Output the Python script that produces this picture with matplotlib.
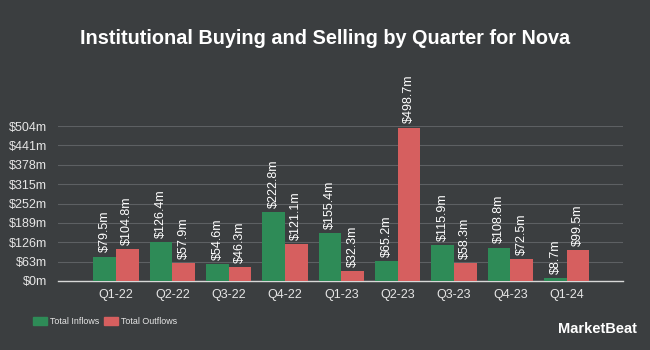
import matplotlib
matplotlib.use("Agg")
import matplotlib.pyplot as plt
import numpy as np

quarters = ["Q1-22", "Q2-22", "Q3-22", "Q4-22", "Q1-23", "Q2-23", "Q3-23", "Q4-23", "Q1-24"]
inflows = [79.5, 126.4, 54.6, 222.8, 155.4, 65.2, 115.9, 108.8, 8.7]
outflows = [104.8, 57.9, 46.3, 121.1, 32.3, 498.7, 58.3, 72.5, 99.5]
yticks = [0, 63, 126, 189, 252, 315, 378, 441, 504]
ytick_labels = ["$0m", "$63m", "$126m", "$189m", "$252m", "$315m", "$378m", "$441m", "$504m"]

BG = "#3b3e40"
GREEN = "#2e8b57"
RED = "#d65f5f"
plt.rcParams['font.family'] = ['Liberation Sans', 'DejaVu Sans']

fig = plt.figure(figsize=(6.5, 3.5), dpi=100, facecolor=BG)
ax = fig.add_axes([58/650, 1-281/350, 565/650, 155/350])
ax.set_facecolor(BG)

x = np.arange(len(quarters))
w = 0.4
ax.bar(x - w/2, inflows, w, color=GREEN, zorder=3)
ax.bar(x + w/2, outflows, w, color=RED, zorder=3)

for xs, vals in ((x - w/2, inflows), (x + w/2, outflows)):
    for xi, v in zip(xs, vals):
        ax.annotate(f"${v}m", (xi, v), xytext=(0, 3), textcoords="offset points",
                    rotation=90, ha="center", va="bottom", color="white",
                    fontsize=9, clip_on=False, annotation_clip=False)

ax.set_xlim(-1.03, 9.0)
ax.set_ylim(0, 504)
ax.set_yticks(yticks)
ax.set_yticklabels(ytick_labels)
ax.set_xticks(x)
ax.set_xticklabels(quarters)
ax.tick_params(axis="y", colors="#e6e6e6", labelsize=9, length=0, pad=8)
ax.tick_params(axis="x", colors="#e6e6e6", labelsize=9, length=0, pad=6)
ax.grid(axis="y", color="#5d6063", linewidth=0.8, zorder=0)
for s in ["top", "right", "left"]:
    ax.spines[s].set_visible(False)
ax.spines["bottom"].set_color("#d8d8d8")
ax.spines["bottom"].set_linewidth(1)

fig.text(0.5, 1-38/350, "Institutional Buying and Selling by Quarter for Nova",
         ha="center", va="center", color="white", fontsize=14.3, fontweight="bold")

# legend
fig.patches.append(plt.Rectangle((33/650, 1-325/350), 14/650, 8/350, transform=fig.transFigure, color=GREEN))
fig.text(50/650, 1-321.5/350, "Total Inflows", color="#e6e6e6", fontsize=6.4, va="center")
fig.patches.append(plt.Rectangle((104/650, 1-325/350), 14/650, 8/350, transform=fig.transFigure, color=RED))
fig.text(121/650, 1-321.5/350, "Total Outflows", color="#e6e6e6", fontsize=6.4, va="center")

fig.text(637/650, 1-329/350, "MarketBeat", color="white", fontsize=10.5, fontweight="bold",
         ha="right", va="center")

fig.savefig("out.png", dpi=100, facecolor=BG)
